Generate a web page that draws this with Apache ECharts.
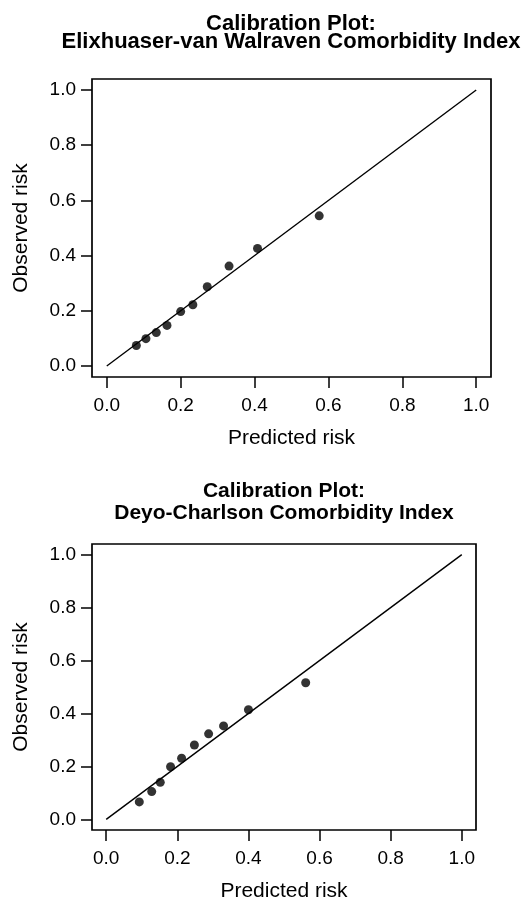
<!DOCTYPE html>
<html>
<head>
<meta charset="utf-8">
<script src="https://cdn.jsdelivr.net/npm/echarts@6/dist/echarts.min.js"></script>
<style>
  body { margin: 0; background: #fff; }
  #chart { width: 523px; height: 903px; }
</style>
</head>
<body>
<div id="chart"></div>
<script>
// values
var evwPredicted = [0.080, 0.106, 0.134, 0.163, 0.200, 0.233, 0.272, 0.331, 0.408, 0.575]
var evwObserved  = [0.074, 0.099, 0.121, 0.147, 0.197, 0.222, 0.287, 0.362, 0.426, 0.544]
var dcPredicted  = [0.093, 0.128, 0.152, 0.181, 0.212, 0.248, 0.288, 0.330, 0.400, 0.561]
var dcObserved   = [0.066, 0.105, 0.140, 0.199, 0.231, 0.281, 0.323, 0.353, 0.414, 0.516]
var diagonal     = [0, 1]
var tickValues   = [0, 0.2, 0.4, 0.6, 0.8, 1.0]

var font = 'Liberation Sans'

function pairs(xs, ys) {
  return xs.map(function (x, i) { return [x, ys[i]] })
}

function makeAxis(dim, idx, name) {
  var isX = dim === 'x'
  return {
    type: 'value',
    gridIndex: idx,
    min: -0.04,
    max: 1.04,
    name: name,
    nameLocation: 'middle',
    nameGap: isX ? 51 : 60,
    nameTextStyle: { fontFamily: font, fontSize: 21, color: '#000' },
    axisLine: { show: false, onZero: false },
    axisTick: {
      show: true,
      length: 11,
      customValues: tickValues,
      lineStyle: { color: '#000', width: 1.5 }
    },
    axisLabel: {
      show: true,
      customValues: tickValues,
      margin: isX ? 19 : 16,
      fontFamily: font,
      fontSize: 19,
      color: '#000',
      formatter: function (v) { return v.toFixed(1) }
    },
    splitLine: { show: false }
  }
}

function titleLine(text, x, y, size) {
  return {
    text: text,
    left: x,
    top: y,
    padding: 0,
    textAlign: 'center',
    textStyle: { fontFamily: font, fontSize: size, fontWeight: 'bold', color: '#000' }
  }
}

function pointSeries(idx, data) {
  return {
    type: 'scatter',
    xAxisIndex: idx,
    yAxisIndex: idx,
    data: data,
    symbol: 'circle',
    symbolSize: 9,
    itemStyle: { color: '#000' },
    silent: true
  }
}

function lineSeries(idx) {
  return {
    type: 'line',
    xAxisIndex: idx,
    yAxisIndex: idx,
    data: pairs(diagonal, diagonal),
    showSymbol: false,
    lineStyle: { color: '#000', width: 1.4 },
    silent: true
  }
}

var chart = echarts.init(document.getElementById('chart'))
chart.setOption({
  animation: false,
  backgroundColor: '#fff',
  title: [
    titleLine('Calibration Plot:', 291, 13, 22),
    titleLine('Elixhuaser-van Walraven Comorbidity Index', 291, 31, 22),
    titleLine('Calibration Plot:', 284, 481, 21),
    titleLine('Deyo-Charlson Comorbidity Index', 284, 503, 21)
  ],
  grid: [
    { left: 92, top: 79, width: 399, height: 298, show: true, borderColor: '#000', borderWidth: 1.7 },
    { left: 92, top: 544, width: 384, height: 288, show: true, borderColor: '#000', borderWidth: 1.7 }
  ],
  xAxis: [makeAxis('x', 0, 'Predicted risk'), makeAxis('x', 1, 'Predicted risk')],
  yAxis: [makeAxis('y', 0, 'Observed risk'), makeAxis('y', 1, 'Observed risk')],
  series: [
    lineSeries(0),
    pointSeries(0, pairs(evwPredicted, evwObserved)),
    lineSeries(1),
    pointSeries(1, pairs(dcPredicted, dcObserved))
  ]
})
</script>
</body>
</html>
